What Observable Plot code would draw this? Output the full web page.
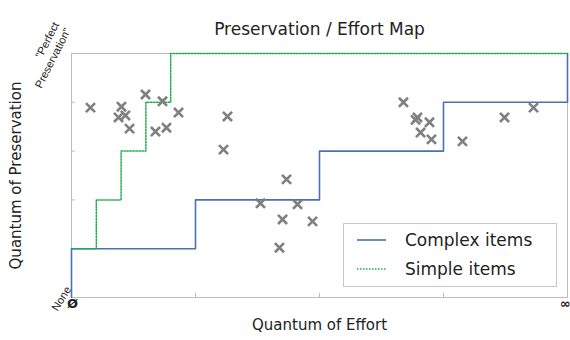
<!DOCTYPE html>
<html>
<head>
<meta charset="utf-8">
<script src="https://cdn.jsdelivr.net/npm/d3@7"></script>
<script src="https://cdn.jsdelivr.net/npm/@observablehq/plot@0.6"></script>
<style>
  html, body { margin: 0; padding: 0; background: #fff; }
  #wrap { position: relative; width: 570px; height: 340px; }
  #legend {
    position: absolute; left: 343px; top: 223px; width: 212px; height: 62px;
    border: 1px solid #c8c8c8; background: #fff;
    font-family: "DejaVu Sans", sans-serif; font-size: 17px; color: #222;
  }
  .row { position: absolute; left: 0; height: 20px; display: flex; align-items: center; }
  .row svg { margin-left: 13px; margin-right: 19px; }
</style>
</head>
<body>
<div id="wrap">
  <div id="chart"></div>
  <div id="legend"></div>
</div>
<script>
// ---- data ----
const titleText = "Preservation / Effort Map";
const xLabel = "Quantum of Effort";
const yLabel = "Quantum of Preservation";

const effortTicks = [0, 4];
const effortTickLabels = ["Ø", "∞"];
const presTicks = [0, 5];
const presTickLabels = ["None", "\"Perfect\nPreservation\""];
const effortInnerTicks = [1, 2, 3];
const presInnerTicks = [1, 2, 3, 4];

const seriesNames = ["Complex items", "Simple items"];
const seriesColors = ["#4c6fb8", "#1fae4a"];

const complexEffort = [0, 0, 1, 2, 3, 4];
const complexPres   = [0, 1, 2, 3, 4, 5];
const simpleEffort  = [0, 0.2, 0.4, 0.6, 0.8, 4];
const simplePres    = [1, 2, 3, 4, 5, 5];

const itemEffort = [0.153, 0.403, 0.379, 0.435, 0.468, 0.597, 0.734, 0.677, 0.766, 0.863,
                    1.258, 1.226, 1.734, 1.524, 1.823, 1.702, 1.944, 1.677,
                    2.677, 2.790, 2.775, 2.887, 2.815, 2.903, 3.153, 3.492, 3.726];
const itemPres   = [3.89, 3.91, 3.69, 3.73, 3.46, 4.16, 4.02, 3.40, 3.48, 3.79,
                    3.71, 3.03, 2.42, 1.93, 1.91, 1.60, 1.56, 1.02,
                    4.00, 3.69, 3.64, 3.59, 3.38, 3.24, 3.20, 3.69, 3.89];

// ---- tables ----
const complex = complexEffort.map((x, i) => ({x, y: complexPres[i]}));
const simple = simpleEffort.map((x, i) => ({x, y: simplePres[i]}));
const items = itemEffort.map((x, i) => ({x, y: itemPres[i]}));
const xTickData = effortTicks.map((v, i) => ({v, label: effortTickLabels[i]}));
const yTickData = presTicks.map((v, i) => ({v, label: presTickLabels[i]}));

const labelFont = "Liberation Sans, Arial, sans-serif";

const chart = Plot.plot({
  width: 570,
  height: 340,
  marginLeft: 71,
  marginRight: 3,
  marginTop: 53,
  marginBottom: 43,
  style: {fontFamily: "DejaVu Sans, sans-serif", background: "#fff"},
  x: {domain: [0, 4], axis: null},
  y: {domain: [0, 5], axis: null},
  marks: [
    Plot.frame({stroke: "#bdbdbd", strokeWidth: 1}),
    Plot.axisX(effortInnerTicks, {tickSize: -4, tickFormat: () => "", stroke: "#bdbdbd", label: null}),
    Plot.axisY(presInnerTicks, {tickSize: -4, tickFormat: () => "", stroke: "#bdbdbd", label: null}),
    Plot.line(complex, {x: "x", y: "y", curve: "step-after", stroke: seriesColors[0], strokeWidth: 1.6}),
    Plot.line(simple, {x: "x", y: "y", curve: "step-after", stroke: seriesColors[1], strokeWidth: 1.5, strokeDasharray: "1.5,1.5"}),
    Plot.dot(items, {x: "x", y: "y", symbol: "times", r: 4.2, stroke: "#7f7f7f", strokeWidth: 2.6}),
    // tick labels
    Plot.text(xTickData.slice(0, 1), {x: "v", y: () => 0, text: "label", lineAnchor: "bottom", dy: 10, dx: 1, fontSize: 13, fill: "#222", fontWeight: "bold"}),
    Plot.text(xTickData.slice(1), {x: "v", y: () => 0, text: "label", lineAnchor: "bottom", textAnchor: "end", dy: 10, dx: 3, fontSize: 13, fill: "#222", fontWeight: "bold"}),
    Plot.text(yTickData.slice(0, 1), {x: () => 0, y: "v", text: "label", textAnchor: "end", rotate: -58, dx: -3, dy: -10, fontSize: 11, fontFamily: labelFont, fill: "#222"}),
    Plot.text(yTickData.slice(1), {x: () => 0, y: "v", text: "label", textAnchor: "end", rotate: -63, dx: -10, dy: -28, fontSize: 11, lineHeight: 1.2, fontFamily: labelFont, fill: "#222"}),
    // title and axis labels
    Plot.text([titleText], {text: d => d, frameAnchor: "top", dy: -31, fontSize: 17, fill: "#222"}),
    Plot.text([xLabel], {text: d => d, frameAnchor: "bottom", dy: 32, fontSize: 15, fill: "#222"}),
    Plot.text([yLabel], {text: d => d, frameAnchor: "left", textAnchor: "middle", dx: -55, rotate: -90, fontSize: 15, fill: "#222"})
  ]
});
document.getElementById("chart").appendChild(chart);

// legend
const legend = document.getElementById("legend");
seriesNames.forEach((name, i) => {
  const row = document.createElement("div");
  row.className = "row";
  row.style.top = (i === 0 ? 6 : 35) + "px";
  const dash = i === 0 ? "" : 'stroke-dasharray="1.5,1.5"';
  row.innerHTML = `<svg width="29" height="6"><line x1="0" y1="3" x2="29" y2="3" stroke="${seriesColors[i]}" stroke-width="1.6" ${dash}/></svg><span>${name}</span>`;
  legend.appendChild(row);
});
</script>
</body>
</html>
